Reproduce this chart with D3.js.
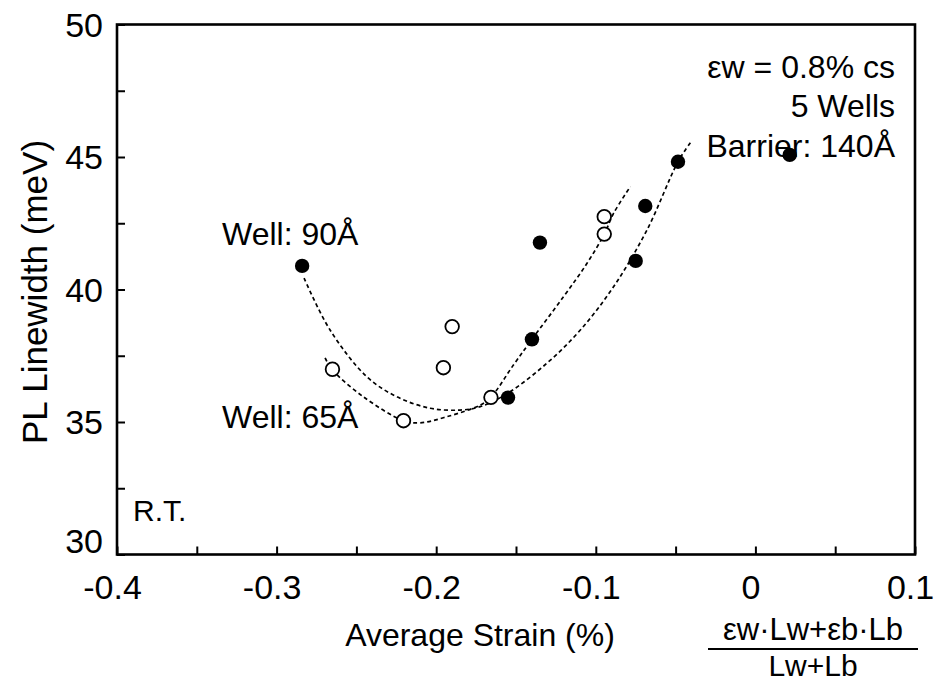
<!DOCTYPE html>
<html>
<head>
<meta charset="utf-8">
<script src="https://cdn.jsdelivr.net/npm/d3@7"></script>
<style>
  html, body { margin: 0; padding: 0; background: #fff; }
  svg { display: block; }
  text { font-family: "Liberation Sans", Arial, Helvetica, sans-serif; fill: #000; }
</style>
</head>
<body>
<svg id="chart" width="934" height="684"></svg>
<script>
// Measured points: 90 Å wells (filled) and 65 Å wells (open)
const well90Strain = [-0.284, -0.135, -0.140, -0.155, -0.075, -0.069, -0.0485, 0.0215];
const well90Width  = [40.89, 41.77, 38.12, 35.92, 41.08, 43.15, 44.82, 45.08];

const well65Strain = [-0.265, -0.2205, -0.190, -0.1955, -0.1657, -0.0947, -0.0947];
const well65Width  = [36.99, 35.05, 38.60, 37.05, 35.93, 42.09, 42.75];

// Dashed guide-to-the-eye trends
const fit90Strain = [-0.2828, -0.2665, -0.2435, -0.2246, -0.2038, -0.185, -0.1724, -0.1553, -0.1306, -0.1097, -0.0888, -0.0679, -0.0485, -0.0403];
const fit90Width  = [40.43, 38.47, 36.71, 35.95, 35.52, 35.45, 35.58, 36.08, 37.22, 38.47, 40.11, 42.25, 44.82, 45.58];

const fit65Strain = [-0.2696, -0.2654, -0.2456, -0.2205, -0.210, -0.1933, -0.1724, -0.1657, -0.1515, -0.140, -0.1202, -0.1055, -0.0947, -0.0888, -0.0784];
const fit65Width  = [37.42, 36.99, 35.95, 35.05, 34.97, 35.20, 35.64, 35.94, 37.16, 38.12, 39.73, 40.99, 42.09, 42.88, 43.88];

// Axis ticks (labels sit on every other tick)
const xTickValues = [-0.4, -0.35, -0.3, -0.25, -0.2, -0.15, -0.1, -0.05, 0, 0.05, 0.1];
const xTickLabels = ["-0.4", "", "-0.3", "", "-0.2", "", "-0.1", "", "0", "", "0.1"];
const yTickValues = [30, 32.5, 35, 37.5, 40, 42.5, 45, 47.5, 50];
const yTickLabels = ["30", "", "35", "", "40", "", "45", "", "50"];

const svg = d3.select("#chart");
const plot = { left: 117, right: 915, top: 24.5, bottom: 554.5 };

const x = d3.scaleLinear().domain([-0.4, 0.1]).range([plot.left, plot.right]);
const y = d3.scaleLinear().domain([30, 50]).range([plot.bottom, plot.top]);

// Bottom axis: inward ticks
const gx = svg.append("g")
  .attr("transform", `translate(0,${plot.bottom})`)
  .call(d3.axisBottom(x).tickValues(xTickValues).tickFormat((d, i) => xTickLabels[i])
        .tickSize(-8).tickSizeOuter(0).tickPadding(20));
gx.select(".domain").remove();
gx.selectAll(".tick line").attr("stroke", "#000").attr("stroke-width", 2);
gx.selectAll(".tick text").attr("font-size", 34).attr("dx", -5)
  .attr("font-family", "Liberation Sans, Arial, sans-serif");

// Left axis: inward ticks
const gy = svg.append("g")
  .attr("transform", `translate(${plot.left},0)`)
  .call(d3.axisLeft(y).tickValues(yTickValues).tickFormat((d, i) => yTickLabels[i])
        .tickSize(-8).tickSizeOuter(0).tickPadding(14));
gy.select(".domain").remove();
gy.selectAll(".tick line").attr("stroke", "#000").attr("stroke-width", 2);
gy.selectAll(".tick text").attr("font-size", 34)
  .attr("font-family", "Liberation Sans, Arial, sans-serif")
  .attr("dy", d => d === 30 ? "-0.05em" : "0.34em");

// Plot frame
svg.append("rect")
  .attr("x", plot.left).attr("y", plot.top)
  .attr("width", plot.right - plot.left).attr("height", plot.bottom - plot.top)
  .attr("fill", "none").attr("stroke", "#000").attr("stroke-width", 2.6);

// Axis titles
svg.append("text")
  .attr("x", 480).attr("y", 646)
  .attr("text-anchor", "middle").attr("font-size", 32)
  .text("Average Strain (%)");

svg.append("text")
  .attr("transform", "translate(47,292) rotate(-90)")
  .attr("text-anchor", "middle").attr("font-size", 35)
  .text("PL Linewidth (meV)");

// Definition of average strain, as a fraction
const fracX = 813;
svg.append("text").attr("x", fracX).attr("y", 640)
  .attr("text-anchor", "middle").attr("font-size", 31)
  .text("εw·Lw+εb·Lb");
svg.append("line")
  .attr("x1", 708).attr("x2", 918).attr("y1", 649).attr("y2", 649)
  .attr("stroke", "#000").attr("stroke-width", 2.2);
svg.append("text").attr("x", fracX).attr("y", 676)
  .attr("text-anchor", "middle").attr("font-size", 30)
  .text("Lw+Lb");

// Annotations
const notes = svg.append("g").attr("font-size", 32);
notes.append("text").attr("x", 895).attr("y", 78).attr("text-anchor", "end").text("εw = 0.8% cs");
notes.append("text").attr("x", 895).attr("y", 117).attr("text-anchor", "end").text("5 Wells");
notes.append("text").attr("x", 895).attr("y", 157).attr("text-anchor", "end").text("Barrier: 140Å");
notes.append("text").attr("x", 222).attr("y", 245).text("Well: 90Å");
notes.append("text").attr("x", 222).attr("y", 428).text("Well: 65Å");
notes.append("text").attr("x", 133).attr("y", 521).attr("font-size", 30).text("R.T.");

// Dashed trend curves
const line = d3.line().x(d => x(d[0])).y(d => y(d[1])).curve(d3.curveCatmullRom.alpha(0.5));
const fits = [
  d3.zip(fit90Strain, fit90Width),
  d3.zip(fit65Strain, fit65Width)
];
svg.append("g").selectAll("path").data(fits).join("path")
  .attr("d", line)
  .attr("fill", "none").attr("stroke", "#000")
  .attr("stroke-width", 1.7).attr("stroke-dasharray", "4,3");

// Markers
svg.append("g").selectAll("circle").data(d3.zip(well65Strain, well65Width)).join("circle")
  .attr("cx", d => x(d[0])).attr("cy", d => y(d[1])).attr("r", 6.8)
  .attr("fill", "#fff").attr("stroke", "#000").attr("stroke-width", 1.8);

svg.append("g").selectAll("circle").data(d3.zip(well90Strain, well90Width)).join("circle")
  .attr("cx", d => x(d[0])).attr("cy", d => y(d[1])).attr("r", 7.2)
  .attr("fill", "#000");
</script>
</body>
</html>
